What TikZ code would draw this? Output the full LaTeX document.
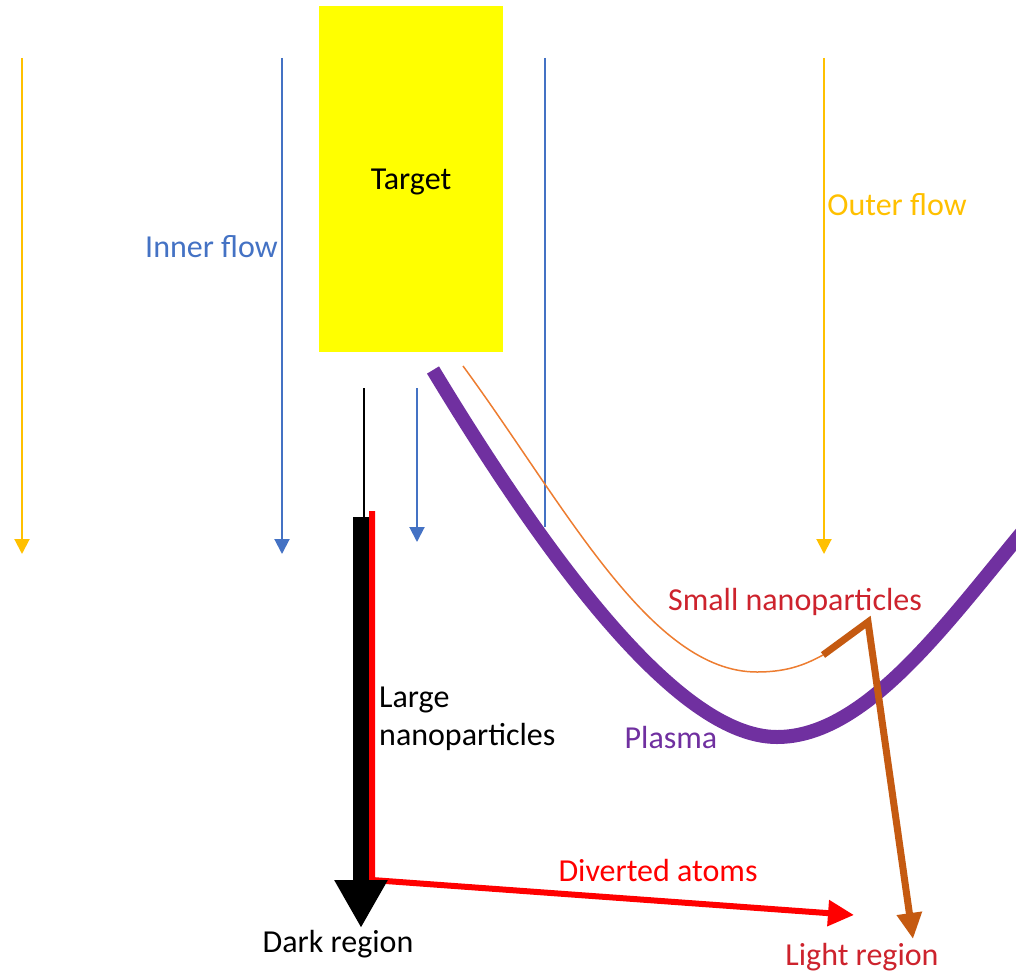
\documentclass[tikz,border=0pt]{standalone}
\usepackage{fontspec}
\setmainfont{Carlito}
\usetikzlibrary{arrows.meta}

\definecolor{flowblue}{HTML}{4472C4}
\definecolor{flowgold}{HTML}{FFC000}
\definecolor{plasmapurple}{HTML}{7030A0}
\definecolor{thinorange}{HTML}{ED7D31}
\definecolor{thickorange}{HTML}{C55A11}
\definecolor{labelred}{RGB}{205,35,45}
\definecolor{targetyellow}{HTML}{FFFF00}

\begin{document}
\begin{tikzpicture}[
    x=1pt, y=-1pt,
    lbl/.style={font=\fontsize{32}{38}\selectfont, inner sep=0pt},
    outer/.style={flowgold, line width=2, -{Triangle[width=15,length=15]}},
    inner/.style={flowblue, line width=2, -{Triangle[width=15,length=15]}},
    plasma/.style={plasmapurple, line width=14},
    smallpath/.style={thinorange, line width=1.5},
    smallarrow/.style={thickorange, line width=7, line join=miter,
                       -{Triangle[width=24,length=26]}},
    largearrow/.style={black, line width=16, -{Triangle[width=50,length=48]}},
    divert/.style={red, line width=6, line join=miter,
                   -{Triangle[width=25,length=26]}},
]
\useasboundingbox (0,0) rectangle (1016,974);

% ============================ target ====================================
\node[fill=targetyellow, minimum width=184, minimum height=346,
      inner sep=0pt] (target) at (411,179) {};
\node[lbl] (targetlbl) at (411,182) {Target};

% ============================ outer / inner flow ========================
\coordinate (outerL0) at (22,58);   \coordinate (outerL1) at (22,554);
\coordinate (outerR0) at (824,58);  \coordinate (outerR1) at (824,554);
\coordinate (innerL0) at (282,58);  \coordinate (innerL1) at (282,554);
\coordinate (innerR0) at (545,58);  \coordinate (innerR1) at (545,527);
\coordinate (innerC0) at (417,388); \coordinate (innerC1) at (417,542);

\draw[outer] (outerL0) -- (outerL1);
\draw[outer] (outerR0) -- (outerR1);
\draw[inner] (innerL0) -- (innerL1);
\draw[flowblue, line width=2] (innerR0) -- (innerR1);
\draw[inner] (innerC0) -- (innerC1);

\node[lbl, text=flowblue, anchor=east] (innerlbl) at (278,247) {Inner flow};
\node[lbl, text=flowgold] (outerlbl) at (897,205) {Outer flow};

% ============================ plasma ====================================
\coordinate (plasma0) at (433,370);
\coordinate (plasmamin) at (777,737);
\coordinate (plasma1) at (1024,530);
\draw[plasma] (plasma0) .. controls (590,630) and (700,737) .. (plasmamin)
  .. controls (865,737) and (945,625) .. (plasma1);
\node[lbl, text=plasmapurple] (plasmalbl) at (671,737) {Plasma};

% ============================ small nanoparticles =======================
\coordinate (small0) at (463,366);
\coordinate (small1) at (823,655);
\coordinate (smallapex) at (868,622);
\coordinate (smalltip) at (913,939);
\draw[smallpath] (small0) .. controls (565,505) and (650,672) .. (757,672)
  .. controls (790,672) and (808,663) .. (small1);
\draw[smallarrow] (small1) -- (smallapex) -- (smalltip);
\node[lbl, text=labelred] (smalllbl) at (795,602) {Small nanoparticles};

% ============================ diverted atoms ============================
\coordinate (divert0) at (372,511);
\coordinate (divertknee) at (372,880);
\coordinate (divert1) at (854,915);
\draw[divert] (divert0) -- (divertknee) -- (divert1);
\node[lbl, text=red] (divertlbl) at (658,870) {Diverted atoms};

% ============================ large nanoparticles =======================
\coordinate (large0) at (364,388);
\coordinate (large1) at (364,518);
\coordinate (largetip) at (361,928);
\draw[black, line width=2] (large0) -- (large1);
\draw[largearrow] (361,517) -- (largetip);
\node[lbl, anchor=west, align=left] (largelbl) at (379,719)
  {Large\\nanoparticles};

% ============================ regions ===================================
\node[lbl] (darklbl) at (338,944) {Dark region};
\node[lbl, text=labelred] (lightlbl) at (862,957) {Light region};

\end{tikzpicture}
\end{document}
